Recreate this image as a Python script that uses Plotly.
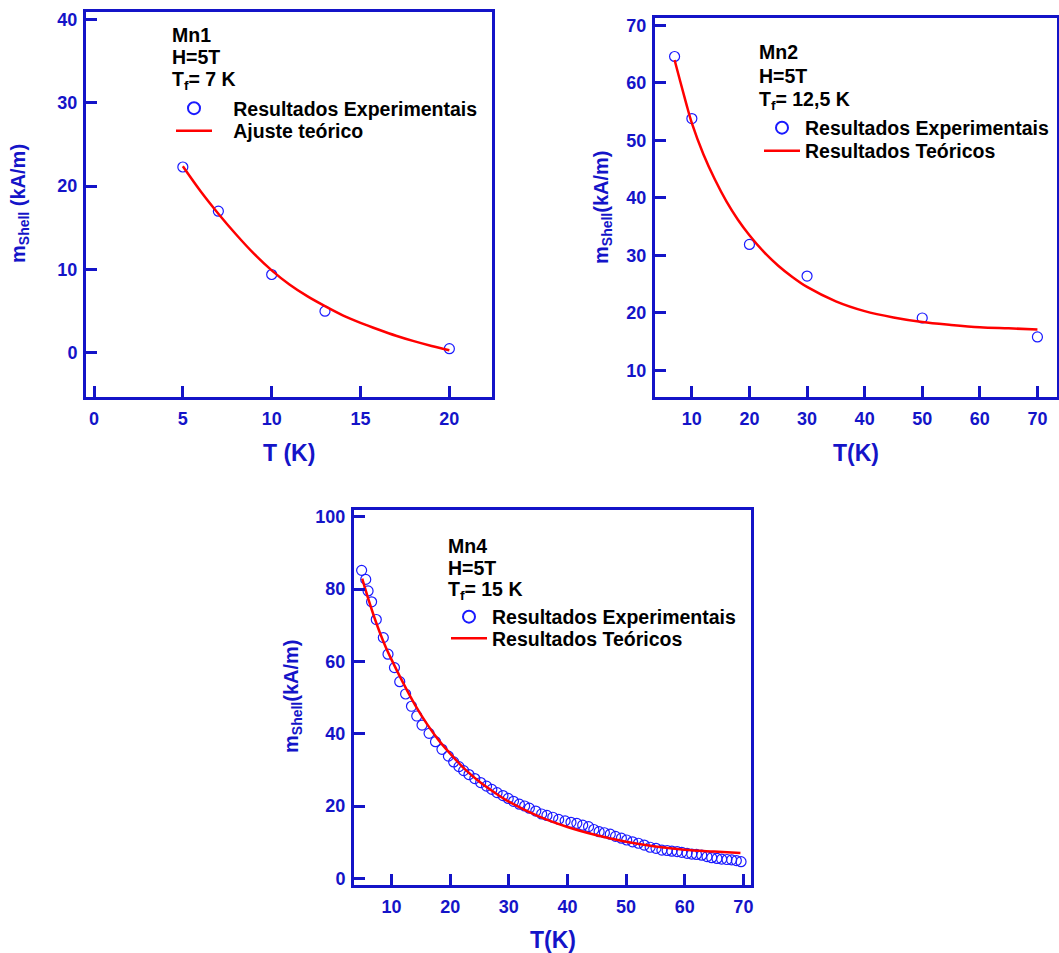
import plotly.graph_objects as go

# ---------------- data ----------------
# Mn1
mn1_T_exp = [5, 7, 10, 13, 20]
mn1_m_exp = [22.3, 17.0, 9.4, 5.0, 0.5]
mn1_T_fit = [5, 6, 7, 8, 9, 10, 11, 12, 13, 14, 15, 16, 17, 18, 19, 20]
mn1_m_fit = [22.4, 19.4, 16.7, 14.2, 11.9, 9.9, 8.2, 6.8, 5.6, 4.5, 3.6, 2.8, 2.05, 1.4, 0.82, 0.3]

# Mn2
mn2_T_exp = [7, 10, 20, 30, 50, 70]
mn2_m_exp = [64.6, 53.8, 31.9, 26.4, 19.1, 15.8]
mn2_T_fit = [7, 8, 9, 10, 12, 14, 16, 18, 20, 22.5, 25, 27.5, 30, 35, 40, 45, 50, 55, 60, 65, 70]
mn2_m_fit = [64.0, 60.2, 56.5, 53.0, 47.6, 43.2, 39.4, 36.2, 33.5, 30.6, 28.2, 26.2, 24.5,
             22.0, 20.3, 19.2, 18.4, 17.9, 17.5, 17.3, 17.1]

# Mn4
mn4_T_exp = [4.9, 5.6, 6.0, 6.6, 7.4, 8.6, 9.4, 10.5, 11.4, 12.4, 13.4, 14.3, 15.2, 16.4, 17.5,
             18.6, 19.7, 20.6, 21.5, 22.3, 23.2, 24.2, 25.2, 26.2, 27.1, 28.0, 29.0, 29.9, 30.8,
             31.8, 32.7, 33.5, 34.6, 35.6, 36.5, 37.5, 38.5, 39.6, 40.6, 41.6, 42.6, 43.6, 44.5,
             45.4, 46.3, 47.3, 48.2, 49.2, 50.1, 51.1, 52.1, 53.1, 54.1, 55.1, 56.1, 57.0, 57.8,
             58.7, 59.5, 60.4, 61.2, 62.0, 62.9, 63.8, 64.6, 65.5, 66.3, 67.2, 68.0, 68.8, 69.6]
mn4_m_exp = [85.2, 82.7, 79.5, 76.5, 71.6, 66.6, 62.0, 58.3, 54.4, 51.0, 47.6, 44.9, 42.4, 40.1, 37.8,
             35.7, 33.8, 32.2, 30.9, 29.8, 28.7, 27.6, 26.5, 25.5, 24.6, 23.7, 22.9, 22.1, 21.3,
             20.5, 20.0, 19.4, 18.6, 17.8, 17.4, 16.9, 16.3, 15.9, 15.5, 15.2, 14.7, 14.3, 13.5,
             12.9, 12.6, 12.2, 11.6, 11.1, 10.6, 10.1, 9.7, 9.2, 8.6, 8.3, 7.8, 7.7, 7.5,
             7.4, 7.2, 6.9, 6.7, 6.6, 6.4, 6.0, 5.7, 5.5, 5.3, 5.2, 5.1, 4.9, 4.6]
mn4_T_fit = [5, 6, 7, 8, 9, 10, 12, 14, 16, 18, 20, 22.5, 25, 27.5, 30, 35, 40, 45, 50, 55, 60, 65, 69.5]
mn4_m_fit = [82.9, 77.5, 72.5, 68.0, 64.0, 60.5, 54.0, 48.0, 42.8, 38.3, 34.5, 30.2, 26.7, 23.8,
             21.2, 17.2, 14.2, 11.9, 10.1, 8.8, 7.9, 7.4, 7.0]

exp_name = "Resultados Experimentais"
fit_names = ["Ajuste teórico", "Resultados Teóricos", "Resultados Teóricos"]

# ---------------- style ----------------
W, H = 1059, 953
AX = "#1414C8"
MK = "#1a1aff"
RED = "#ff0000"
FONT = "Liberation Sans, Arial, sans-serif"

def px(x):
    return x / W

def py(y):
    return 1 - y / H

fig = go.Figure()

def add_panel(i, Te, me, Tf, mf, fitname, leg_a, leg_b, pad):
    xa = "x" if i == 1 else f"x{i}"
    ya = "y" if i == 1 else f"y{i}"
    fig.add_trace(go.Scatter(x=Te, y=me, mode="markers", name=pad + exp_name,
                             xaxis=xa, yaxis=ya, legend=leg_a,
                             marker=dict(symbol="circle-open", size=10, color=MK,
                                         line=dict(width=1.2, color=MK))))
    fig.add_trace(go.Scatter(x=Tf, y=mf, mode="lines", name=pad + fitname, line_shape="spline",
                             xaxis=xa, yaxis=ya, legend=leg_b,
                             line=dict(color=RED, width=2.5)))

add_panel(1, mn1_T_exp, mn1_m_exp, mn1_T_fit, mn1_m_fit, fit_names[0], "legend", "legend2",
          "\u00a0\u00a0\u00a0")
add_panel(2, mn2_T_exp, mn2_m_exp, mn2_T_fit, mn2_m_fit, fit_names[1], "legend3", "legend4", "")
add_panel(3, mn4_T_exp, mn4_m_exp, mn4_T_fit, mn4_m_fit, fit_names[2], "legend5", "legend6", "")

tickfont = dict(family=FONT, size=18, color=AX, weight="bold")

def axis(domain, rng, dtick, tick0, anchor, is_x):
    return dict(domain=domain, range=rng, dtick=dtick, tick0=tick0, anchor=anchor,
                showline=True, linecolor=AX, linewidth=3, mirror=True,
                ticks="inside", ticklen=11, tickwidth=3, tickcolor=AX,
                tickfont=tickfont, showgrid=False, zeroline=False,
                ticklabelstandoff=3 if is_x else 2, automargin=False)

# panel pixel boxes (left, top, right, bottom)
b1 = (86, 12, 492, 397)
b2 = (655, 18, 1057, 397)
b3 = (354, 510, 751, 885)

fig.update_layout(
    xaxis=axis([px(b1[0]), px(b1[2])], [-0.45, 22.4], 5, 0, "y", True),
    yaxis=axis([py(b1[3]), py(b1[1])], [-5.3, 40.9], 10, 0, "x", False),
    xaxis2=axis([px(b2[0]), px(b2[2])], [3.6, 73.4], 10, 0, "y2", True),
    yaxis2=axis([py(b2[3]), py(b2[1])], [5.35, 71.3], 10, 0, "x2", False),
    xaxis3=axis([px(b3[0]), px(b3[2])], [3.6, 71.3], 10, 0, "y3", True),
    yaxis3=axis([py(b3[3]), py(b3[1])], [-1.85, 101.9], 20, 0, "x3", False),
)

legfont = dict(family=FONT, size=19.5, color="black", weight="bold")

def leg(x, y, sizing):
    return dict(x=px(x), y=py(y), xanchor="left", yanchor="middle", font=legfont,
                bgcolor="rgba(0,0,0,0)", borderwidth=0, itemwidth=36,
                tracegroupgap=0, itemsizing=sizing)

fig.update_layout(
    legend=leg(171, 108.5, "constant"),
    legend2=leg(171, 131, "trace"),
    legend3=leg(759, 128, "constant"),
    legend4=leg(759, 151, "trace"),
    legend5=leg(446, 617, "constant"),
    legend6=leg(446, 638.5, "trace"),
)

annots = []
def block(x, ys, lines):
    for y, t in zip(ys, lines):
        annots.append(dict(text=f"<b>{t}</b>", x=px(x), y=py(y), xref="paper", yref="paper",
                           xanchor="left", yanchor="middle", showarrow=False,
                           font=dict(family=FONT, size=19.5, color="black")))

block(170, [34.5, 57, 81], ["Mn1", "H=5T", "T<sub>f</sub>= 7 K"])
block(757, [52.5, 76, 101], ["Mn2", "H=5T", "T<sub>f</sub>= 12,5 K"])
block(445.5, [546, 567.5, 590], ["Mn4", "H=5T", "T<sub>f</sub>= 15 K"])

def title(x, y, t, size, angle=0):
    annots.append(dict(text=f"<b>{t}</b>", x=px(x), y=py(y), xref="paper", yref="paper",
                       xanchor="center", yanchor="middle", showarrow=False, textangle=angle,
                       font=dict(family=FONT, size=size, color=AX)))

title(289, 453, "T (K)", 23)
title(856, 453, "T(K)", 23)
title(553, 940, "T(K)", 23)
title(20, 204, "m<sub>Shell</sub> (kA/m)", 20, -90)
title(602, 207, "m<sub>Shell</sub>(kA/m)", 20, -90)
title(292, 696, "m<sub>Shell</sub>(kA/m)", 20, -90)

fig.update_layout(annotations=annots, width=W, height=H,
                  margin=dict(l=0, r=0, t=0, b=0, autoexpand=False),
                  plot_bgcolor="white", paper_bgcolor="white", showlegend=True)

fig.write_html("out.html")
